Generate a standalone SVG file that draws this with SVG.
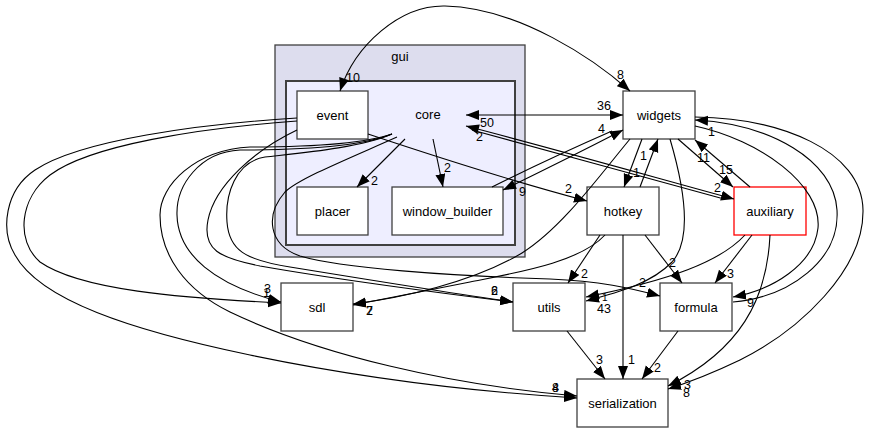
<svg xmlns="http://www.w3.org/2000/svg" width="871" height="433" viewBox="0 0 871 433">
<style>
text{font-family:"Liberation Sans",Arial,Helvetica,sans-serif;fill:#000}
.n{font-size:13px;text-anchor:middle}
.l{font-size:12.5px}
.box{fill:#fff;stroke:#404040;stroke-width:1.3}
.e{fill:none;stroke:#000;stroke-width:1.1}
</style>
<defs>
<marker id="arr" markerUnits="userSpaceOnUse" markerWidth="14" markerHeight="11" refX="13" refY="5" orient="auto"><path d="M0,0 L13,5 L0,10 z" fill="#000"/></marker>
<marker id="arrS" markerUnits="userSpaceOnUse" markerWidth="14" markerHeight="11" refX="0" refY="5" orient="auto"><path d="M13,0 L0,5 L13,10 z" fill="#000"/></marker>
</defs>
<rect width="871" height="433" fill="#fff"/>
<g id="cluster_gui">
<rect x="275" y="45" width="250" height="212" fill="#ddddee" stroke="#404040" stroke-width="1.3"/>
<text class="n" x="400" y="61">gui</text>
</g>
<g id="cluster_core">
<rect x="286" y="81" width="229" height="164" fill="#eeeeff" stroke="#404040" stroke-width="2"/>
<text class="n" x="428" y="119">core</text>
</g>
<g id="node_event"><rect class="box" x="297" y="91" width="71" height="48"/><text class="n" x="332.5" y="119.5">event</text></g>
<g id="node_placer"><rect class="box" x="297" y="187" width="71" height="48"/><text class="n" x="332.5" y="215.5">placer</text></g>
<g id="node_window_builder"><rect class="box" x="392" y="187" width="111" height="48"/><text class="n" x="447.5" y="215.5">window_builder</text></g>
<g id="node_widgets"><rect class="box" x="623" y="91" width="72" height="48"/><text class="n" x="659" y="119.5">widgets</text></g>
<g id="node_hotkey"><rect class="box" x="587" y="187" width="72" height="48"/><text class="n" x="623" y="215.5">hotkey</text></g>
<g id="node_auxiliary"><rect x="734" y="187" width="72" height="48" fill="#fff" stroke="#ff0000" stroke-width="1.3"/><text class="n" x="770" y="215.5">auxiliary</text></g>
<g id="node_sdl"><rect class="box" x="281" y="283" width="72" height="48"/><text class="n" x="317" y="311.5">sdl</text></g>
<g id="node_utils"><rect class="box" x="513" y="283" width="72" height="48"/><text class="n" x="549" y="311.5">utils</text></g>
<g id="node_formula"><rect class="box" x="660" y="283" width="72" height="48"/><text class="n" x="696" y="311.5">formula</text></g>
<g id="node_serialization"><rect class="box" x="577" y="379" width="91" height="48"/><text class="n" x="622.5" y="407.5">serialization</text></g>
<g id="edges">
<!-- event <-> widgets -->
<path class="e" d="M340,91 C355,45 400,5 445,6 C520,8 595,60 630,91" marker-start="url(#arrS)" marker-end="url(#arr)"/>
<text class="l" x="346" y="82">10</text>
<text class="l" x="617" y="79">8</text>
<!-- core <-> widgets -->
<path class="e" d="M466,115 L623,115" marker-start="url(#arrS)" marker-end="url(#arr)"/>
<text class="l" x="597" y="110">36</text>
<text class="l" x="480" y="127">50</text>
<!-- core <-> auxiliary -->
<path class="e" d="M466,126 C540,145 650,176 734,199" marker-start="url(#arrS)" marker-end="url(#arr)"/>
<path class="e" d="M472,130 C540,148 650,179 724,199"/>
<text class="l" x="476" y="141">2</text>
<text class="l" x="714" y="192">2</text>
<!-- window_builder <-> widgets -->
<path class="e" d="M503,190 C540,172 590,147 623,130" marker-start="url(#arrS)" marker-end="url(#arr)"/>
<path class="e" d="M492,187 C530,168 580,145 612,131"/>
<text class="l" x="598" y="133">4</text>
<text class="l" x="519" y="196">9</text>
<!-- event -> hotkey -->
<path class="e" d="M368,134 C440,158 530,186 587,201" marker-end="url(#arr)"/>
<text class="l" x="565" y="193">2</text>
<!-- core -> placer -->
<path class="e" d="M405,139 L357,187" marker-end="url(#arr)"/>
<text class="l" x="371" y="185">2</text>
<!-- core -> window_builder -->
<path class="e" d="M433,139 L443,187" marker-end="url(#arr)"/>
<text class="l" x="444" y="172">2</text>
<!-- widgets -> hotkey / hotkey -> widgets -->
<path class="e" d="M642,139 L624,187" marker-end="url(#arr)"/>
<text class="l" x="633" y="177">1</text>
<path class="e" d="M640,187 L658,139" marker-end="url(#arr)"/>
<text class="l" x="640" y="160">1</text>
<!-- widgets -> auxiliary / auxiliary -> widgets -->
<path class="e" d="M678,139 L733,187" marker-end="url(#arr)"/>
<text class="l" x="719" y="174">15</text>
<path class="e" d="M750,187 L695,140" marker-end="url(#arr)"/>
<text class="l" x="697" y="162">11</text>
<!-- widgets -> formula -->
<path class="e" d="M695,126 C760,140 822,185 818,228 C814,265 772,290 733,297" marker-end="url(#arr)"/>
<text class="l" x="747" y="307">9</text>
<!-- formula -> widgets -->
<path class="e" d="M733,302 C790,297 840,260 837,210 C834,160 770,124 695,120" marker-end="url(#arr)"/>
<text class="l" x="708" y="136">1</text>
<!-- widgets -> serialization -->
<path class="e" d="M695,117 C780,118 862,150 863,210 C864,270 800,330 740,360 C715,372 690,382 668,389" marker-end="url(#arr)"/>
<!-- auxiliary -> serialization -->
<path class="e" d="M770,235 C767,300 740,350 668,386" marker-end="url(#arr)"/>
<text class="l" x="684" y="389">3</text>
<text class="l" x="683" y="397">8</text>
<!-- auxiliary -> formula -->
<path class="e" d="M752,235 L715,283" marker-end="url(#arr)"/>
<text class="l" x="727" y="278">3</text>
<!-- auxiliary -> utils -->
<path class="e" d="M745,235 C720,262 670,280 586,297" marker-end="url(#arr)"/>
<!-- widgets -> utils -->
<path class="e" d="M670,139 C685,190 692,240 672,262 C652,283 620,292 586,301" marker-end="url(#arr)"/>
<text class="l" x="602" y="301" style="font-size:10px">1</text>
<text class="l" x="597" y="313">43</text>
<!-- hotkey -> utils -->
<path class="e" d="M600,235 L568,283" marker-end="url(#arr)"/>
<text class="l" x="581" y="278">2</text>
<!-- hotkey -> sdl -->
<path class="e" d="M605,235 C580,262 520,272 470,282 C420,292 380,300 353,305" marker-end="url(#arr)"/>
<!-- widgets -> sdl -->
<path class="e" d="M630,139 C600,175 562,228 522,253 C472,283 400,298 353,304" marker-end="url(#arr)"/>
<text class="l" x="366" y="315">2</text>
<text class="l" x="366" y="315">7</text>
<!-- hotkey -> formula -->
<path class="e" d="M645,235 L682,283" marker-end="url(#arr)"/>
<text class="l" x="669" y="267">2</text>
<!-- hotkey -> serialization -->
<path class="e" d="M623,235 L623,379" marker-end="url(#arr)"/>
<text class="l" x="628" y="364">1</text>
<!-- utils -> serialization -->
<path class="e" d="M567,331 L605,379" marker-end="url(#arr)"/>
<text class="l" x="596" y="364">3</text>
<!-- formula -> serialization -->
<path class="e" d="M678,331 L642,379" marker-end="url(#arr)"/>
<text class="l" x="654" y="372">2</text>
<!-- core -> formula -->
<path class="e" d="M397,137 C350,158 300,178 285,192 C265,215 268,245 300,256 C340,268 450,276 550,279 C600,281 630,288 660,296" marker-end="url(#arr)"/>
<text class="l" x="639" y="287">2</text>
<!-- event -> serialization -->
<path class="e" d="M297,118 C200,124 80,140 35,170 C5,190 0,230 15,255 C40,300 130,330 250,355 C370,380 480,392 577,398" marker-end="url(#arr)"/>
<!-- core -> serialization -->
<path class="e" d="M392,134 C360,145 300,147 250,147 C195,150 160,185 160,215 C160,255 185,290 230,312 C320,355 450,385 577,396" marker-end="url(#arr)"/>
<text class="l" x="552" y="392">4</text>
<text class="l" x="552" y="392">8</text>
<!-- event -> sdl -->
<path class="e" d="M297,121 C200,128 90,145 50,175 C20,198 15,240 40,262 C80,290 180,298 281,303" marker-end="url(#arr)"/>
<!-- core -> sdl -->
<path class="e" d="M392,134 C360,147 300,150 240,150 C200,152 176,185 177,215 C178,255 215,285 281,302" marker-end="url(#arr)"/>
<text class="l" x="264" y="293">3</text>
<text class="l" x="263" y="297">1</text>
<!-- event -> utils -->
<path class="e" d="M297,130 C255,150 215,185 208,220 C202,250 220,258 260,266 C340,280 440,293 513,302" marker-end="url(#arr)"/>
<!-- core -> utils -->
<path class="e" d="M392,134 C360,148 300,153 265,157 C235,162 225,195 227,222 C229,250 245,260 290,267 C370,280 450,293 513,302" marker-end="url(#arr)"/>
<text class="l" x="491" y="295">2</text>
<text class="l" x="491" y="295">6</text>
</g>
</svg>
